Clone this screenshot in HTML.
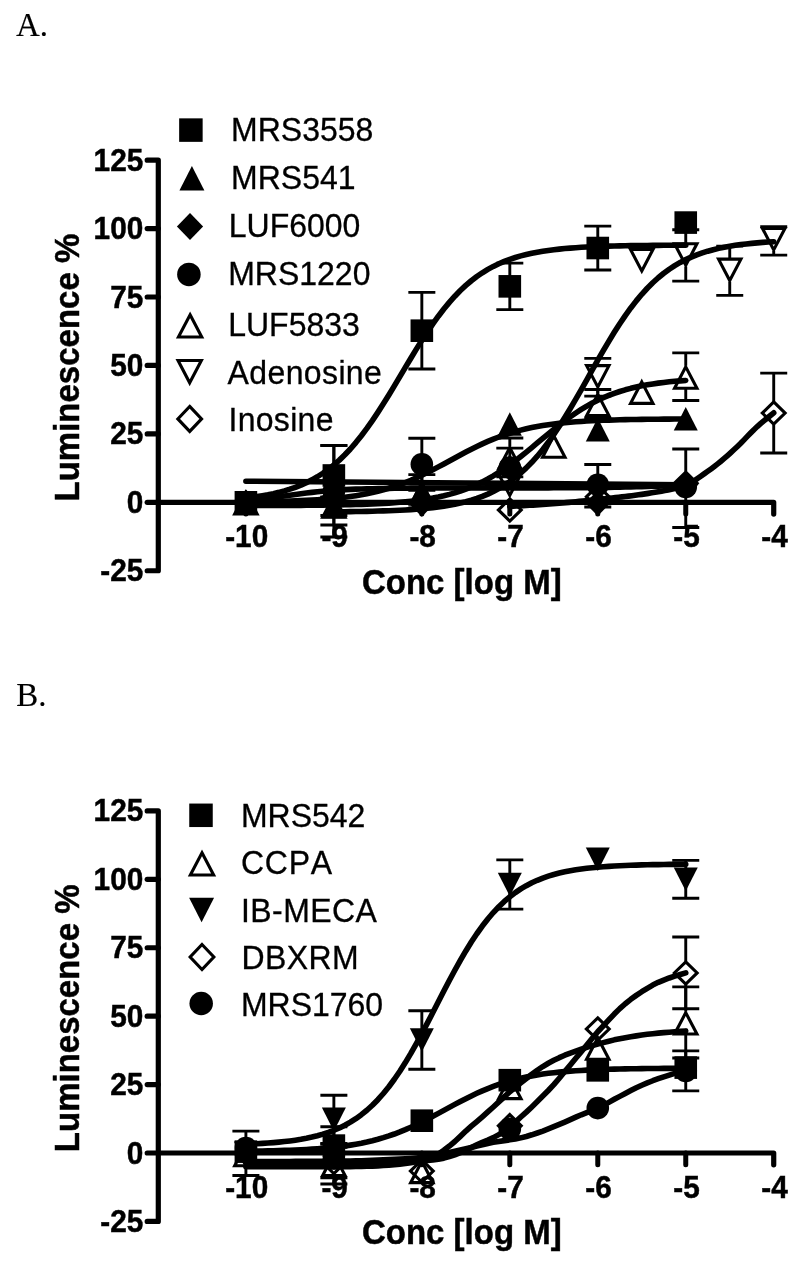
<!DOCTYPE html>
<html lang="en"><head><meta charset="utf-8"><title>Figure</title>
<style>
html,body{margin:0;padding:0;background:#fff}
svg{display:block}
text{fill:#000;stroke:#000;stroke-width:.45px}
.tk{font:bold 29.8px "Liberation Sans",sans-serif}
.ti{font:bold 33px "Liberation Sans",sans-serif}
.lg{font:32px "Liberation Sans",sans-serif;font-kerning:none;stroke-width:.3px}
.pl{font:34px "Liberation Serif",serif;stroke-width:.15px}
</style></head><body>
<svg width="800" height="1264" viewBox="0 0 800 1264">
<rect width="800" height="1264" fill="#fff"/>
<text transform="translate(16 35.6) scale(.97 1.02)" class="pl">A.</text>
<text transform="translate(16.2 706.2) scale(.97 1.02)" class="pl">B.</text>
<g id="panelA">
<path d="M147.2 160.18H158.3V570.73H147.2" stroke="#000" stroke-width="5.2" stroke-linecap="round" stroke-linejoin="round" fill="none"/>
<text transform="translate(143.3 170.78) scale(1 1.045)" text-anchor="end" class="tk">125</text>
<path d="M147.2 228.6H158.3" stroke="#000" stroke-width="5.2" stroke-linecap="round" fill="none"/>
<text transform="translate(143.3 239.2) scale(1 1.045)" text-anchor="end" class="tk">100</text>
<path d="M147.2 297.02H158.3" stroke="#000" stroke-width="5.2" stroke-linecap="round" fill="none"/>
<text transform="translate(143.3 307.62) scale(1 1.045)" text-anchor="end" class="tk">75</text>
<path d="M147.2 365.45H158.3" stroke="#000" stroke-width="5.2" stroke-linecap="round" fill="none"/>
<text transform="translate(143.3 376.05) scale(1 1.045)" text-anchor="end" class="tk">50</text>
<path d="M147.2 433.88H158.3" stroke="#000" stroke-width="5.2" stroke-linecap="round" fill="none"/>
<text transform="translate(143.3 444.48) scale(1 1.045)" text-anchor="end" class="tk">25</text>
<path d="M147.2 502.3H158.3" stroke="#000" stroke-width="5.2" stroke-linecap="round" fill="none"/>
<text transform="translate(143.3 512.9) scale(1 1.045)" text-anchor="end" class="tk">0</text>
<text transform="translate(143.3 581.33) scale(1 1.045)" text-anchor="end" class="tk">-25</text>
<path d="M158.3 502.3H773.72V514.1" stroke="#000" stroke-width="5.2" stroke-linecap="round" stroke-linejoin="round" fill="none"/>
<path d="M245.9 502.3V514.1" stroke="#000" stroke-width="5" stroke-linecap="round" fill="none"/>
<text transform="translate(246.7 547.3) scale(1 1.045)" text-anchor="middle" class="tk">-10</text>
<path d="M333.87 502.3V514.1" stroke="#000" stroke-width="5" stroke-linecap="round" fill="none"/>
<text transform="translate(334.67 547.3) scale(1 1.045)" text-anchor="middle" class="tk">-9</text>
<path d="M421.84 502.3V514.1" stroke="#000" stroke-width="5" stroke-linecap="round" fill="none"/>
<text transform="translate(422.64 547.3) scale(1 1.045)" text-anchor="middle" class="tk">-8</text>
<path d="M509.81 502.3V514.1" stroke="#000" stroke-width="5" stroke-linecap="round" fill="none"/>
<text transform="translate(510.61 547.3) scale(1 1.045)" text-anchor="middle" class="tk">-7</text>
<path d="M597.78 502.3V514.1" stroke="#000" stroke-width="5" stroke-linecap="round" fill="none"/>
<text transform="translate(598.58 547.3) scale(1 1.045)" text-anchor="middle" class="tk">-6</text>
<path d="M685.75 502.3V514.1" stroke="#000" stroke-width="5" stroke-linecap="round" fill="none"/>
<text transform="translate(686.55 547.3) scale(1 1.045)" text-anchor="middle" class="tk">-5</text>
<text transform="translate(774.52 547.3) scale(1 1.045)" text-anchor="middle" class="tk">-4</text>
<text transform="translate(461.8 593.7) scale(1 1.045)" text-anchor="middle" class="ti">Conc [log M]</text>
<text transform="translate(79 367.6) rotate(-90) scale(1 1.045)" text-anchor="middle" class="ti">Luminescence %</text>
<rect x="179.15" y="118.35" width="23.5" height="23.5"/>
<text transform="translate(231.1 141.2) scale(1 1.045)" class="lg">MRS3558</text>
<path d="M191.9 166.03L204.38 190.57L179.42 190.57Z"/>
<text transform="translate(231.1 188.6) scale(1 1.045)" class="lg">MRS541</text>
<path d="M190 213.08L203.1 226.5L190 239.92L176.9 226.5Z"/>
<text transform="translate(228.8 236.6) scale(1 1.045)" class="lg">LUF6000</text>
<circle cx="188.9" cy="274.4" r="11.75"/>
<text transform="translate(228.2 284.5) scale(1 1.045)" class="lg">MRS1220</text>
<path d="M190.1 314.77L201.75 337.03L178.45 337.03Z" fill="none" stroke="#000" stroke-width="3.1" stroke-miterlimit="10"/>
<text transform="translate(228.2 335.7) scale(1 1.045)" class="lg">LUF5833</text>
<path d="M189.7 382.83L201.35 360.57L178.05 360.57Z" fill="none" stroke="#000" stroke-width="3.1" stroke-miterlimit="10"/>
<text transform="translate(227.6 383.7) scale(1 1.045)" class="lg" letter-spacing="0.38">Adenosine</text>
<path d="M189.7 406.42L201.56 418.9L189.7 431.38L177.84 418.9Z" fill="none" stroke="#000" stroke-width="3.1" stroke-miterlimit="10"/>
<text transform="translate(228.5 430.6) scale(1 1.045)" class="lg" letter-spacing="0.3">Inosine</text>
<path d="M245.9 498L251.4 497.35L256.9 496.6L262.39 495.74L267.89 494.76L273.39 493.63L278.89 492.34L284.39 490.87L289.88 489.19L295.38 487.28L300.88 485.11L306.38 482.65L311.88 479.87L317.38 476.75L322.87 473.24L328.37 469.32L333.87 464.95L339.37 460.12L344.87 454.79L350.36 448.97L355.86 442.62L361.36 435.78L366.86 428.44L372.36 420.63L377.86 412.41L383.35 403.82L388.85 394.94L394.35 385.84L399.85 376.62L405.35 367.37L410.84 358.19L416.34 349.16L421.84 340.37L427.34 331.91L432.84 323.83L438.33 316.19L443.83 309.02L449.33 302.36L454.83 296.2L460.33 290.55L465.83 285.41L471.32 280.75L476.82 276.55L482.32 272.78L487.82 269.41L493.32 266.41L498.81 263.75L504.31 261.4L509.81 259.33L515.31 257.5L520.81 255.9L526.3 254.5L531.8 253.27L537.3 252.19L542.8 251.26L548.3 250.44L553.79 249.73L559.29 249.1L564.79 248.57L570.29 248.1L575.79 247.69L581.29 247.33L586.78 247.03L592.28 246.76L597.78 246.53L603.28 246.33L608.78 246.15L614.27 246L619.77 245.87L625.27 245.76L630.77 245.66L636.27 245.57L641.76 245.5L647.26 245.44L652.76 245.38L658.26 245.33L663.76 245.29L669.26 245.26L674.75 245.22L680.25 245.2L685.75 245.17" fill="none" stroke="#000" stroke-width="5.6" stroke-linecap="round" stroke-linejoin="round"/>
<path d="M245.9 501.9L251.4 501.84L256.9 501.77L262.39 501.69L267.89 501.6L273.39 501.49L278.89 501.36L284.39 501.22L289.88 501.06L295.38 500.87L300.88 500.65L306.38 500.4L311.88 500.11L317.38 499.78L322.87 499.41L328.37 498.98L333.87 498.49L339.37 497.93L344.87 497.29L350.36 496.57L355.86 495.75L361.36 494.83L366.86 493.79L372.36 492.63L377.86 491.33L383.35 489.88L388.85 488.28L394.35 486.52L399.85 484.6L405.35 482.51L410.84 480.25L416.34 477.84L421.84 475.28L427.34 472.58L432.84 469.78L438.33 466.88L443.83 463.92L449.33 460.92L454.83 457.92L460.33 454.95L465.83 452.03L471.32 449.2L476.82 446.48L482.32 443.88L487.82 441.43L493.32 439.14L498.81 437.01L504.31 435.05L509.81 433.25L515.31 431.61L520.81 430.13L526.3 428.79L531.8 427.6L537.3 426.53L542.8 425.58L548.3 424.74L553.79 424L559.29 423.34L564.79 422.76L570.29 422.26L575.79 421.81L581.29 421.42L586.78 421.08L592.28 420.79L597.78 420.53L603.28 420.3L608.78 420.11L614.27 419.94L619.77 419.79L625.27 419.66L630.77 419.55L636.27 419.45L641.76 419.37L647.26 419.3L652.76 419.23L658.26 419.18L663.76 419.13L669.26 419.09L674.75 419.05L680.25 419.02L685.75 419" fill="none" stroke="#000" stroke-width="5.6" stroke-linecap="round" stroke-linejoin="round"/>
<path d="M245.9 502.3L251.4 501.4L256.9 500.47L262.39 499.54L267.89 498.61L273.39 497.69L278.89 496.81L284.39 495.97L289.88 495.18L295.38 494.44L300.88 493.72L306.38 493.03L311.88 492.38L317.38 491.77L322.87 491.21L328.37 490.7L333.87 490.26L339.37 489.89L344.87 489.59L350.36 489.35L355.86 489.16L361.36 489.01L366.86 488.87L372.36 488.75L377.86 488.62L383.35 488.49L388.85 488.39L394.35 488.3L399.85 488.23L405.35 488.18L410.84 488.13L416.34 488.1L421.84 488.07L427.34 488.04L432.84 488.02L438.33 488L443.83 487.99L449.33 487.97L454.83 487.96L460.33 487.95L465.83 487.94L471.32 487.94L476.82 487.93L482.32 487.93L487.82 487.93L493.32 487.92L498.81 487.92L504.31 487.92L509.81 487.91L515.31 487.91L520.81 487.9L526.3 487.89L531.8 487.88L537.3 487.87L542.8 487.86L548.3 487.84L553.79 487.82L559.29 487.8L564.79 487.77L570.29 487.74L575.79 487.71L581.29 487.67L586.78 487.62L592.28 487.57L597.78 487.52L603.28 487.45L608.78 487.37L614.27 487.27L619.77 487.15L625.27 487.02L630.77 486.89L636.27 486.74L641.76 486.59L647.26 486.43L652.76 486.26L658.26 486.1L663.76 485.94L669.26 485.78L674.75 485.62L680.25 485.47L685.75 485.33" fill="none" stroke="#000" stroke-width="5.6" stroke-linecap="round" stroke-linejoin="round"/>
<path d="M245.9 481.23L465.83 483L685.75 484.78" fill="none" stroke="#000" stroke-width="5.6" stroke-linecap="round" stroke-linejoin="round"/>
<path d="M245.9 505.52L251.4 505.52L256.9 505.5L262.39 505.49L267.89 505.48L273.39 505.46L278.89 505.44L284.39 505.42L289.88 505.4L295.38 505.37L300.88 505.33L306.38 505.29L311.88 505.25L317.38 505.2L322.87 505.14L328.37 505.07L333.87 504.99L339.37 504.9L344.87 504.79L350.36 504.67L355.86 504.53L361.36 504.37L366.86 504.18L372.36 503.97L377.86 503.72L383.35 503.44L388.85 503.11L394.35 502.74L399.85 502.31L405.35 501.82L410.84 501.25L416.34 500.61L421.84 499.87L427.34 499.03L432.84 498.08L438.33 497L443.83 495.77L449.33 494.38L454.83 492.82L460.33 491.07L465.83 489.11L471.32 486.94L476.82 484.53L482.32 481.87L487.82 478.97L493.32 475.81L498.81 472.39L504.31 468.74L509.81 464.85L515.31 460.76L520.81 456.48L526.3 452.07L531.8 447.55L537.3 442.96L542.8 438.37L548.3 433.81L553.79 429.32L559.29 424.97L564.79 420.77L570.29 416.76L575.79 412.98L581.29 409.43L586.78 406.12L592.28 403.07L597.78 400.28L603.28 397.73L608.78 395.43L614.27 393.35L619.77 391.48L625.27 389.82L630.77 388.34L636.27 387.02L641.76 385.86L647.26 384.84L652.76 383.93L658.26 383.14L663.76 382.45L669.26 381.84L674.75 381.31L680.25 380.85L685.75 380.44" fill="none" stroke="#000" stroke-width="5.6" stroke-linecap="round" stroke-linejoin="round"/>
<path d="M333.87 511.81L339.37 511.76L344.87 511.7L350.36 511.63L355.86 511.54L361.36 511.45L366.86 511.34L372.36 511.22L377.86 511.07L383.35 510.91L388.85 510.71L394.35 510.49L399.85 510.24L405.35 509.94L410.84 509.6L416.34 509.21L421.84 508.76L427.34 508.25L432.84 507.65L438.33 506.97L443.83 506.18L449.33 505.28L454.83 504.25L460.33 503.07L465.83 501.72L471.32 500.17L476.82 498.41L482.32 496.41L487.82 494.13L493.32 491.55L498.81 488.64L504.31 485.36L509.81 481.67L515.31 477.55L520.81 472.97L526.3 467.89L531.8 462.29L537.3 456.16L542.8 449.48L548.3 442.27L553.79 434.53L559.29 426.3L564.79 417.62L570.29 408.55L575.79 399.16L581.29 389.54L586.78 379.77L592.28 369.97L597.78 360.23L603.28 350.64L608.78 341.31L614.27 332.31L619.77 323.72L625.27 315.58L630.77 307.95L636.27 300.84L641.76 294.28L647.26 288.25L652.76 282.76L658.26 277.78L663.76 273.29L669.26 269.26L674.75 265.66L680.25 262.45L685.75 259.61L691.25 257.09L696.75 254.87L702.24 252.92L707.74 251.2L713.24 249.7L718.74 248.38L724.24 247.23L729.74 246.23L735.23 245.35L740.73 244.59L746.23 243.92L751.73 243.35L757.23 242.84L762.72 242.41L768.22 242.03L773.72 241.7" fill="none" stroke="#000" stroke-width="5.6" stroke-linecap="round" stroke-linejoin="round"/>
<path d="M509.81 506.41L513.11 506.2L516.41 506.01L519.71 505.82L523.01 505.64L526.3 505.46L529.6 505.27L532.9 505.08L536.2 504.89L539.5 504.69L542.8 504.47L546.1 504.25L549.4 504.01L552.7 503.76L555.99 503.49L559.29 503.21L562.59 502.92L565.89 502.63L569.19 502.34L572.49 502.03L575.79 501.72L579.09 501.41L582.39 501.09L585.68 500.76L588.98 500.43L592.28 500.09L595.58 499.75L598.88 499.41L602.18 499.06L605.48 498.7L608.78 498.34L612.08 497.98L615.37 497.61L618.67 497.25L621.97 496.88L625.27 496.5L628.57 496.11L631.87 495.71L635.17 495.28L638.47 494.84L641.76 494.38L645.06 493.88L648.36 493.36L651.66 492.81L654.96 492.26L658.26 491.72L661.56 491.17L664.86 490.59L668.16 489.97L671.45 489.29L674.75 488.54L678.05 487.7L681.35 486.77L684.65 485.71L687.95 484.43L691.25 482.68L694.55 480.59L697.85 478.28L701.14 475.92L704.44 473.63L707.74 471.32L711.04 468.93L714.34 466.47L717.64 463.91L720.94 461.25L724.24 458.47L727.54 455.58L730.83 452.6L734.13 449.54L737.43 446.42L740.73 443.22L744.03 439.85L747.33 436.41L750.63 432.98L753.93 429.67L757.23 426.57L760.52 423.67L763.82 420.91L767.12 418.21L770.42 415.53L773.72 412.8" fill="none" stroke="#000" stroke-width="5.6" stroke-linecap="round" stroke-linejoin="round"/>
<path d="M333.87 445.37V505.58M320.37 445.37H347.37M320.37 505.58H347.37" fill="none" stroke="#000" stroke-width="2.9"/>
<path d="M421.84 292.37V369.01M408.34 292.37H435.34M408.34 369.01H435.34" fill="none" stroke="#000" stroke-width="2.9"/>
<path d="M509.81 263.09V309.62M496.31 263.09H523.31M496.31 309.62H523.31" fill="none" stroke="#000" stroke-width="2.9"/>
<path d="M597.78 226.14V269.93M584.28 226.14H611.28M584.28 269.93H611.28" fill="none" stroke="#000" stroke-width="2.9"/>
<rect x="234.6" y="491" width="22.6" height="22.6"/>
<rect x="322.57" y="464.18" width="22.6" height="22.6"/>
<rect x="410.54" y="319.39" width="22.6" height="22.6"/>
<rect x="498.51" y="275.05" width="22.6" height="22.6"/>
<rect x="586.48" y="236.73" width="22.6" height="22.6"/>
<rect x="674.45" y="211.28" width="22.6" height="22.6"/>
<path d="M333.87 497.37V515.44M320.37 497.37H347.37M320.37 515.44H347.37" fill="none" stroke="#000" stroke-width="2.9"/>
<path d="M421.84 474.66V508.05M408.34 474.66H435.34M408.34 508.05H435.34" fill="none" stroke="#000" stroke-width="2.9"/>
<path d="M245.9 490.5L257.9 514.1L233.9 514.1Z"/>
<path d="M333.87 494.61L345.87 518.21L321.87 518.21Z"/>
<path d="M421.84 479.55L433.84 503.15L409.84 503.15Z"/>
<path d="M509.81 412.22L521.81 435.82L497.81 435.82Z"/>
<path d="M597.78 417.97L609.78 441.57L585.78 441.57Z"/>
<path d="M685.75 407.02L697.75 430.62L673.75 430.62Z"/>
<path d="M333.87 496.83V525.02M320.37 496.83H347.37M320.37 525.02H347.37" fill="none" stroke="#000" stroke-width="2.9"/>
<path d="M245.9 489.4L258.5 502.3L245.9 515.2L233.3 502.3Z"/>
<path d="M333.87 483.93L346.47 496.83L333.87 509.73L321.27 496.83Z"/>
<path d="M421.84 491.04L434.44 503.94L421.84 516.84L409.24 503.94Z"/>
<path d="M509.81 455.19L522.41 468.09L509.81 480.99L497.21 468.09Z"/>
<path d="M597.78 490.22L610.38 503.12L597.78 516.02L585.18 503.12Z"/>
<path d="M685.75 471.61L698.35 484.51L685.75 497.41L673.15 484.51Z"/>
<path d="M333.87 445.64V537.06M320.37 445.64H347.37M320.37 537.06H347.37" fill="none" stroke="#000" stroke-width="2.9"/>
<path d="M421.84 438.25V490.26M408.34 438.25H435.34M408.34 490.26H435.34" fill="none" stroke="#000" stroke-width="2.9"/>
<path d="M509.81 448.11V486.97M496.31 448.11H523.31M496.31 486.97H523.31" fill="none" stroke="#000" stroke-width="2.9"/>
<path d="M597.78 464.53V506.95M584.28 464.53H611.28M584.28 506.95H611.28" fill="none" stroke="#000" stroke-width="2.9"/>
<circle cx="245.9" cy="502.3" r="11.3"/>
<circle cx="333.87" cy="491.35" r="11.3"/>
<circle cx="421.84" cy="464.26" r="11.3"/>
<circle cx="509.81" cy="467.54" r="11.3"/>
<circle cx="597.78" cy="484.78" r="11.3"/>
<circle cx="685.75" cy="486.97" r="11.3"/>
<path d="M509.81 437.98V446.41M509.81 468.41V476.85M496.31 437.98H523.31M496.31 476.85H523.31" fill="none" stroke="#000" stroke-width="2.9"/>
<path d="M597.78 389.54V393.04M597.78 415.04V418.55M584.28 389.54H611.28M584.28 418.55H611.28" fill="none" stroke="#000" stroke-width="2.9"/>
<path d="M685.75 352.86V365.67M685.75 387.67V400.48M672.25 352.86H699.25M672.25 400.48H699.25" fill="none" stroke="#000" stroke-width="2.9"/>
<path d="M245.9 492.5L257.1 513.9L234.7 513.9Z" fill="none" stroke="#000" stroke-width="3.1" stroke-miterlimit="10"/>
<path d="M333.87 495.78L345.07 517.18L322.67 517.18Z" fill="none" stroke="#000" stroke-width="3.1" stroke-miterlimit="10"/>
<path d="M421.84 482.92L433.04 504.32L410.64 504.32Z" fill="none" stroke="#000" stroke-width="3.1" stroke-miterlimit="10"/>
<path d="M509.81 447.61L521.01 469.01L498.61 469.01Z" fill="none" stroke="#000" stroke-width="3.1" stroke-miterlimit="10"/>
<path d="M553.79 435.84L565 457.24L542.59 457.24Z" fill="none" stroke="#000" stroke-width="3.1" stroke-miterlimit="10"/>
<path d="M597.78 394.24L608.98 415.64L586.58 415.64Z" fill="none" stroke="#000" stroke-width="3.1" stroke-miterlimit="10"/>
<path d="M641.76 381.93L652.97 403.33L630.56 403.33Z" fill="none" stroke="#000" stroke-width="3.1" stroke-miterlimit="10"/>
<path d="M685.75 366.87L696.95 388.27L674.55 388.27Z" fill="none" stroke="#000" stroke-width="3.1" stroke-miterlimit="10"/>
<path d="M597.78 358.33V366.22M597.78 388.22V396.1M584.28 358.33H611.28M584.28 396.1H611.28" fill="none" stroke="#000" stroke-width="2.9"/>
<path d="M685.75 229.69V244.42M685.75 266.42V281.15M672.25 229.69H699.25M672.25 281.15H699.25" fill="none" stroke="#000" stroke-width="2.9"/>
<path d="M729.74 246.12V259.75M729.74 281.75V295.38M716.24 246.12H743.24M716.24 295.38H743.24" fill="none" stroke="#000" stroke-width="2.9"/>
<path d="M773.72 226.68V229.1M773.72 251.1V255.15M760.22 226.68H787.22M760.22 255.15H787.22" fill="none" stroke="#000" stroke-width="2.9"/>
<path d="M509.81 495.4L521.01 474L498.61 474Z" fill="none" stroke="#000" stroke-width="3.1" stroke-miterlimit="10"/>
<path d="M597.78 387.02L608.98 365.62L586.58 365.62Z" fill="none" stroke="#000" stroke-width="3.1" stroke-miterlimit="10"/>
<path d="M641.76 270.97L652.97 249.57L630.56 249.57Z" fill="none" stroke="#000" stroke-width="3.1" stroke-miterlimit="10"/>
<path d="M685.75 265.22L696.95 243.82L674.55 243.82Z" fill="none" stroke="#000" stroke-width="3.1" stroke-miterlimit="10"/>
<path d="M729.74 280.55L740.94 259.15L718.53 259.15Z" fill="none" stroke="#000" stroke-width="3.1" stroke-miterlimit="10"/>
<path d="M773.72 249.9L784.92 228.5L762.52 228.5Z" fill="none" stroke="#000" stroke-width="3.1" stroke-miterlimit="10"/>
<path d="M685.75 448.93V471.74M685.75 494.54V527.48M672.25 448.93H699.25M672.25 527.48H699.25" fill="none" stroke="#000" stroke-width="2.9"/>
<path d="M773.72 373.11V401.67M773.72 424.47V453.03M760.22 373.11H787.22M760.22 453.03H787.22" fill="none" stroke="#000" stroke-width="2.9"/>
<path d="M509.81 498.86L521.21 509.96L509.81 521.06L498.41 509.96Z" fill="none" stroke="#000" stroke-width="3.1" stroke-miterlimit="10"/>
<path d="M597.78 485.73L609.18 496.83L597.78 507.93L586.38 496.83Z" fill="none" stroke="#000" stroke-width="3.1" stroke-miterlimit="10"/>
<path d="M685.75 472.04L697.15 483.14L685.75 494.24L674.35 483.14Z" fill="none" stroke="#000" stroke-width="3.1" stroke-miterlimit="10"/>
<path d="M773.72 401.97L785.12 413.07L773.72 424.17L762.32 413.07Z" fill="none" stroke="#000" stroke-width="3.1" stroke-miterlimit="10"/>
</g>
<g id="panelB">
<path d="M147.2 810.88H158.3V1221.42H147.2" stroke="#000" stroke-width="5.2" stroke-linecap="round" stroke-linejoin="round" fill="none"/>
<text transform="translate(143.3 821.48) scale(1 1.045)" text-anchor="end" class="tk">125</text>
<path d="M147.2 879.3H158.3" stroke="#000" stroke-width="5.2" stroke-linecap="round" fill="none"/>
<text transform="translate(143.3 889.9) scale(1 1.045)" text-anchor="end" class="tk">100</text>
<path d="M147.2 947.73H158.3" stroke="#000" stroke-width="5.2" stroke-linecap="round" fill="none"/>
<text transform="translate(143.3 958.33) scale(1 1.045)" text-anchor="end" class="tk">75</text>
<path d="M147.2 1016.15H158.3" stroke="#000" stroke-width="5.2" stroke-linecap="round" fill="none"/>
<text transform="translate(143.3 1026.75) scale(1 1.045)" text-anchor="end" class="tk">50</text>
<path d="M147.2 1084.58H158.3" stroke="#000" stroke-width="5.2" stroke-linecap="round" fill="none"/>
<text transform="translate(143.3 1095.17) scale(1 1.045)" text-anchor="end" class="tk">25</text>
<path d="M147.2 1153H158.3" stroke="#000" stroke-width="5.2" stroke-linecap="round" fill="none"/>
<text transform="translate(143.3 1163.6) scale(1 1.045)" text-anchor="end" class="tk">0</text>
<text transform="translate(143.3 1232.02) scale(1 1.045)" text-anchor="end" class="tk">-25</text>
<path d="M158.3 1153H773.72V1164.8" stroke="#000" stroke-width="5.2" stroke-linecap="round" stroke-linejoin="round" fill="none"/>
<path d="M245.9 1153V1164.8" stroke="#000" stroke-width="5" stroke-linecap="round" fill="none"/>
<text transform="translate(246.7 1198) scale(1 1.045)" text-anchor="middle" class="tk">-10</text>
<path d="M333.87 1153V1164.8" stroke="#000" stroke-width="5" stroke-linecap="round" fill="none"/>
<text transform="translate(334.67 1198) scale(1 1.045)" text-anchor="middle" class="tk">-9</text>
<path d="M421.84 1153V1164.8" stroke="#000" stroke-width="5" stroke-linecap="round" fill="none"/>
<text transform="translate(422.64 1198) scale(1 1.045)" text-anchor="middle" class="tk">-8</text>
<path d="M509.81 1153V1164.8" stroke="#000" stroke-width="5" stroke-linecap="round" fill="none"/>
<text transform="translate(510.61 1198) scale(1 1.045)" text-anchor="middle" class="tk">-7</text>
<path d="M597.78 1153V1164.8" stroke="#000" stroke-width="5" stroke-linecap="round" fill="none"/>
<text transform="translate(598.58 1198) scale(1 1.045)" text-anchor="middle" class="tk">-6</text>
<path d="M685.75 1153V1164.8" stroke="#000" stroke-width="5" stroke-linecap="round" fill="none"/>
<text transform="translate(686.55 1198) scale(1 1.045)" text-anchor="middle" class="tk">-5</text>
<text transform="translate(774.52 1198) scale(1 1.045)" text-anchor="middle" class="tk">-4</text>
<text transform="translate(461.8 1244.4) scale(1 1.045)" text-anchor="middle" class="ti">Conc [log M]</text>
<text transform="translate(79 1018.3) rotate(-90) scale(1 1.045)" text-anchor="middle" class="ti">Luminescence %</text>
<rect x="189.25" y="803.55" width="23.5" height="23.5"/>
<text transform="translate(240.9 826.9) scale(1 1.045)" class="lg">MRS542</text>
<path d="M202 852.77L213.65 875.03L190.35 875.03Z" fill="none" stroke="#000" stroke-width="3.1" stroke-miterlimit="10"/>
<text transform="translate(240.9 874.1) scale(1 1.045)" class="lg" letter-spacing="0.8">CCPA</text>
<path d="M201.6 922.27L214.08 897.73L189.12 897.73Z"/>
<text transform="translate(240.9 921.7) scale(1 1.045)" class="lg" letter-spacing="0.45">IB-MECA</text>
<path d="M202 944.52L213.86 957L202 969.48L190.14 957Z" fill="none" stroke="#000" stroke-width="3.1" stroke-miterlimit="10"/>
<text transform="translate(241.6 968.8) scale(1 1.045)" class="lg" letter-spacing="0.35">DBXRM</text>
<circle cx="201.2" cy="1003.5" r="11.75"/>
<text transform="translate(240.9 1015.8) scale(1 1.045)" class="lg">MRS1760</text>
<path d="M245.9 1151.18L251.4 1151.11L256.9 1151.02L262.39 1150.93L267.89 1150.82L273.39 1150.7L278.89 1150.56L284.39 1150.39L289.88 1150.21L295.38 1149.99L300.88 1149.74L306.38 1149.46L311.88 1149.13L317.38 1148.76L322.87 1148.33L328.37 1147.84L333.87 1147.28L339.37 1146.65L344.87 1145.93L350.36 1145.12L355.86 1144.2L361.36 1143.17L366.86 1142.01L372.36 1140.71L377.86 1139.27L383.35 1137.68L388.85 1135.93L394.35 1134.01L399.85 1131.92L405.35 1129.68L410.84 1127.27L416.34 1124.71L421.84 1122.03L427.34 1119.22L432.84 1116.33L438.33 1113.37L443.83 1110.37L449.33 1107.37L454.83 1104.4L460.33 1101.48L465.83 1098.64L471.32 1095.92L476.82 1093.32L482.32 1090.86L487.82 1088.56L493.32 1086.43L498.81 1084.45L504.31 1082.65L509.81 1081L515.31 1079.52L520.81 1078.18L526.3 1076.98L531.8 1075.9L537.3 1074.95L542.8 1074.1L548.3 1073.35L553.79 1072.7L559.29 1072.12L564.79 1071.61L570.29 1071.16L575.79 1070.77L581.29 1070.43L586.78 1070.13L592.28 1069.87L597.78 1069.64L603.28 1069.45L608.78 1069.28L614.27 1069.13L619.77 1069L625.27 1068.89L630.77 1068.79L636.27 1068.7L641.76 1068.63L647.26 1068.57L652.76 1068.51L658.26 1068.46L663.76 1068.42L669.26 1068.39L674.75 1068.36L680.25 1068.33L685.75 1068.3" fill="none" stroke="#000" stroke-width="5.6" stroke-linecap="round" stroke-linejoin="round"/>
<path d="M245.9 1166.68L251.4 1166.69L256.9 1166.69L262.39 1166.7L267.89 1166.71L273.39 1166.72L278.89 1166.73L284.39 1166.74L289.88 1166.75L295.38 1166.76L300.88 1166.77L306.38 1166.77L311.88 1166.76L317.38 1166.75L322.87 1166.74L328.37 1166.72L333.87 1166.68L339.37 1166.66L344.87 1166.63L350.36 1166.6L355.86 1166.54L361.36 1166.46L366.86 1166.32L372.36 1166.13L377.86 1165.86L383.35 1165.54L388.85 1165.17L394.35 1164.72L399.85 1164.17L405.35 1163.5L410.84 1162.68L416.34 1161.68L421.84 1160.43L427.34 1158.82L432.84 1156.73L438.33 1153.97L443.83 1150.3L449.33 1146.07L454.83 1141.53L460.33 1136.37L465.83 1131.07L471.32 1126.19L476.82 1121.53L482.32 1116.78L487.82 1111.91L493.32 1106.97L498.81 1101.93L504.31 1096.84L509.81 1091.69L515.31 1087.3L520.81 1082.89L526.3 1078.53L531.8 1074.3L537.3 1070.27L542.8 1066.53L548.3 1063.25L553.79 1060.34L559.29 1057.68L564.79 1055.23L570.29 1053.07L575.79 1051.08L581.29 1049.16L586.78 1047.33L592.28 1045.63L597.78 1044.07L603.28 1042.59L608.78 1041.17L614.27 1039.86L619.77 1038.7L625.27 1037.67L630.77 1036.73L636.27 1035.86L641.76 1035.06L647.26 1034.34L652.76 1033.69L658.26 1033.13L663.76 1032.65L669.26 1032.21L674.75 1031.8L680.25 1031.38L685.75 1030.93" fill="none" stroke="#000" stroke-width="5.6" stroke-linecap="round" stroke-linejoin="round"/>
<path d="M245.9 1144.21L251.4 1143.98L256.9 1143.71L262.39 1143.4L267.89 1143.04L273.39 1142.62L278.89 1142.13L284.39 1141.56L289.88 1140.91L295.38 1140.15L300.88 1139.27L306.38 1138.25L311.88 1137.08L317.38 1135.72L322.87 1134.16L328.37 1132.36L333.87 1130.29L339.37 1127.93L344.87 1125.22L350.36 1122.14L355.86 1118.65L361.36 1114.69L366.86 1110.23L372.36 1105.24L377.86 1099.67L383.35 1093.5L388.85 1086.71L394.35 1079.29L399.85 1071.25L405.35 1062.61L410.84 1053.41L416.34 1043.71L421.84 1033.59L427.34 1023.16L432.84 1012.52L438.33 1001.78L443.83 991.09L449.33 980.55L454.83 970.28L460.33 960.39L465.83 950.96L471.32 942.07L476.82 933.75L482.32 926.06L487.82 918.99L493.32 912.55L498.81 906.72L504.31 901.48L509.81 896.79L515.31 892.62L520.81 888.92L526.3 885.67L531.8 882.8L537.3 880.29L542.8 878.1L548.3 876.19L553.79 874.52L559.29 873.08L564.79 871.83L570.29 870.74L575.79 869.8L581.29 868.99L586.78 868.29L592.28 867.69L597.78 867.17L603.28 866.72L608.78 866.34L614.27 866.01L619.77 865.72L625.27 865.47L630.77 865.26L636.27 865.08L641.76 864.92L647.26 864.79L652.76 864.67L658.26 864.58L663.76 864.49L669.26 864.42L674.75 864.35L680.25 864.3L685.75 864.25" fill="none" stroke="#000" stroke-width="5.6" stroke-linecap="round" stroke-linejoin="round"/>
<path d="M245.9 1162.31L251.4 1162.31L256.9 1162.31L262.39 1162.32L267.89 1162.32L273.39 1162.33L278.89 1162.34L284.39 1162.35L289.88 1162.35L295.38 1162.36L300.88 1162.36L306.38 1162.36L311.88 1162.36L317.38 1162.35L322.87 1162.34L328.37 1162.33L333.87 1162.31L339.37 1162.27L344.87 1162.22L350.36 1162.16L355.86 1162.09L361.36 1162L366.86 1161.92L372.36 1161.84L377.86 1161.76L383.35 1161.7L388.85 1161.66L394.35 1161.63L399.85 1161.57L405.35 1161.47L410.84 1161.3L416.34 1161.06L421.84 1160.77L427.34 1160.4L432.84 1159.89L438.33 1159.19L443.83 1158.15L449.33 1156.63L454.83 1154.8L460.33 1152.64L465.83 1150.16L471.32 1147.6L476.82 1144.85L482.32 1142.28L487.82 1140.04L493.32 1137.63L498.81 1134.66L504.31 1131.09L509.81 1127L515.31 1122.13L520.81 1117.02L526.3 1112.12L531.8 1106.93L537.3 1101.56L542.8 1096.11L548.3 1090.48L553.79 1084.57L559.29 1078.21L564.79 1071.57L570.29 1064.92L575.79 1058.33L581.29 1051.69L586.78 1045.05L592.28 1038.28L597.78 1031.75L603.28 1025.79L608.78 1019.84L614.27 1014.06L619.77 1008.63L625.27 1003.72L630.77 999.33L636.27 995.37L641.76 991.72L647.26 988.3L652.76 985.06L658.26 982.36L663.76 980.07L669.26 977.97L674.75 976.15L680.25 974.53L685.75 972.91" fill="none" stroke="#000" stroke-width="5.6" stroke-linecap="round" stroke-linejoin="round"/>
<path d="M245.9 1161.48L251.4 1161.47L256.9 1161.46L262.39 1161.45L267.89 1161.45L273.39 1161.44L278.89 1161.44L284.39 1161.43L289.88 1161.43L295.38 1161.42L300.88 1161.41L306.38 1161.39L311.88 1161.37L317.38 1161.34L322.87 1161.31L328.37 1161.26L333.87 1161.21L339.37 1161.15L344.87 1161.07L350.36 1160.97L355.86 1160.85L361.36 1160.7L366.86 1160.54L372.36 1160.34L377.86 1160.12L383.35 1159.89L388.85 1159.66L394.35 1159.42L399.85 1159.15L405.35 1158.83L410.84 1158.44L416.34 1157.97L421.84 1157.38L427.34 1156.64L432.84 1155.74L438.33 1154.72L443.83 1153.62L449.33 1152.45L454.83 1151.28L460.33 1150.09L465.83 1148.79L471.32 1147.42L476.82 1146.03L482.32 1144.68L487.82 1143.43L493.32 1142.33L498.81 1141.42L504.31 1140.63L509.81 1139.83L515.31 1138.94L520.81 1137.85L526.3 1136.46L531.8 1134.8L537.3 1132.98L542.8 1131.04L548.3 1128.94L553.79 1126.71L559.29 1124.41L564.79 1122.06L570.29 1119.6L575.79 1117.14L581.29 1114.77L586.78 1112.62L592.28 1110.5L597.78 1108.11L603.28 1105.34L608.78 1102.36L614.27 1099.32L619.77 1096.35L625.27 1093.46L630.77 1090.58L636.27 1087.82L641.76 1085.27L647.26 1082.92L652.76 1080.74L658.26 1078.71L663.76 1076.81L669.26 1075.06L674.75 1073.39L680.25 1071.74L685.75 1070.07" fill="none" stroke="#000" stroke-width="5.6" stroke-linecap="round" stroke-linejoin="round"/>
<path d="M333.87 1126.72V1164.5M320.37 1126.72H347.37M320.37 1164.5H347.37" fill="none" stroke="#000" stroke-width="2.9"/>
<rect x="234.6" y="1140.33" width="22.6" height="22.6"/>
<rect x="322.57" y="1134.31" width="22.6" height="22.6"/>
<rect x="410.54" y="1109.4" width="22.6" height="22.6"/>
<rect x="498.51" y="1068.9" width="22.6" height="22.6"/>
<rect x="586.48" y="1059.04" width="22.6" height="22.6"/>
<rect x="674.45" y="1056.31" width="22.6" height="22.6"/>
<path d="M333.87 1143.97V1152.95M333.87 1174.95V1183.93M320.37 1143.97H347.37M320.37 1183.93H347.37" fill="none" stroke="#000" stroke-width="2.9"/>
<path d="M685.75 986.86V1011.45M685.75 1033.45V1058.03M672.25 986.86H699.25M672.25 1058.03H699.25" fill="none" stroke="#000" stroke-width="2.9"/>
<path d="M245.9 1144.29L257.1 1165.69L234.7 1165.69Z" fill="none" stroke="#000" stroke-width="3.1" stroke-miterlimit="10"/>
<path d="M333.87 1154.15L345.07 1175.55L322.67 1175.55Z" fill="none" stroke="#000" stroke-width="3.1" stroke-miterlimit="10"/>
<path d="M421.84 1161.26L433.04 1182.66L410.64 1182.66Z" fill="none" stroke="#000" stroke-width="3.1" stroke-miterlimit="10"/>
<path d="M509.81 1077.24L521.01 1098.64L498.61 1098.64Z" fill="none" stroke="#000" stroke-width="3.1" stroke-miterlimit="10"/>
<path d="M597.78 1037.83L608.98 1059.23L586.58 1059.23Z" fill="none" stroke="#000" stroke-width="3.1" stroke-miterlimit="10"/>
<path d="M685.75 1012.65L696.95 1034.05L674.55 1034.05Z" fill="none" stroke="#000" stroke-width="3.1" stroke-miterlimit="10"/>
<path d="M245.9 1131.1V1175.44M232.4 1131.1H259.4M232.4 1175.44H259.4" fill="none" stroke="#000" stroke-width="2.9"/>
<path d="M333.87 1095.25V1143.42M320.37 1095.25H347.37M320.37 1143.42H347.37" fill="none" stroke="#000" stroke-width="2.9"/>
<path d="M421.84 1010.68V1069.25M408.34 1010.68H435.34M408.34 1069.25H435.34" fill="none" stroke="#000" stroke-width="2.9"/>
<path d="M509.81 859.87V909.13M496.31 859.87H523.31M496.31 909.13H523.31" fill="none" stroke="#000" stroke-width="2.9"/>
<path d="M685.75 860.41V898.19M672.25 860.41H699.25M672.25 898.19H699.25" fill="none" stroke="#000" stroke-width="2.9"/>
<path d="M245.9 1165.07L257.9 1141.47L233.9 1141.47Z"/>
<path d="M333.87 1131.13L345.87 1107.53L321.87 1107.53Z"/>
<path d="M421.84 1051.76L433.84 1028.16L409.84 1028.16Z"/>
<path d="M509.81 896.3L521.81 872.7L497.81 872.7Z"/>
<path d="M597.78 871.12L609.78 847.52L585.78 847.52Z"/>
<path d="M685.75 891.1L697.75 867.5L673.75 867.5Z"/>
<path d="M333.87 1147.25V1151.18M333.87 1173.98V1177.91M320.37 1147.25H347.37M320.37 1177.91H347.37" fill="none" stroke="#000" stroke-width="2.9"/>
<path d="M685.75 937.05V961.51M685.75 984.31V1008.76M672.25 937.05H699.25M672.25 1008.76H699.25" fill="none" stroke="#000" stroke-width="2.9"/>
<path d="M245.9 1141.9L257.3 1153L245.9 1164.1L234.5 1153Z" fill="none" stroke="#000" stroke-width="3.1" stroke-miterlimit="10"/>
<path d="M333.87 1151.48L345.27 1162.58L333.87 1173.68L322.47 1162.58Z" fill="none" stroke="#000" stroke-width="3.1" stroke-miterlimit="10"/>
<path d="M421.84 1159.96L433.24 1171.06L421.84 1182.16L410.44 1171.06Z" fill="none" stroke="#000" stroke-width="3.1" stroke-miterlimit="10"/>
<path d="M509.81 1114.53L521.21 1125.63L509.81 1136.73L498.41 1125.63Z" fill="none" stroke="#000" stroke-width="3.1" stroke-miterlimit="10"/>
<path d="M597.78 1017.91L609.18 1029.01L597.78 1040.11L586.38 1029.01Z" fill="none" stroke="#000" stroke-width="3.1" stroke-miterlimit="10"/>
<path d="M685.75 961.81L697.15 972.91L685.75 984.01L674.35 972.91Z" fill="none" stroke="#000" stroke-width="3.1" stroke-miterlimit="10"/>
<path d="M685.75 1050.91V1090.87M672.25 1050.91H699.25M672.25 1090.87H699.25" fill="none" stroke="#000" stroke-width="2.9"/>
<circle cx="245.9" cy="1148.07" r="11.3"/>
<circle cx="333.87" cy="1158.47" r="11.3"/>
<circle cx="509.81" cy="1128.91" r="11.3"/>
<circle cx="597.78" cy="1108.11" r="11.3"/>
<circle cx="685.75" cy="1070.89" r="11.3"/>
</g>
</svg>
</body></html>
